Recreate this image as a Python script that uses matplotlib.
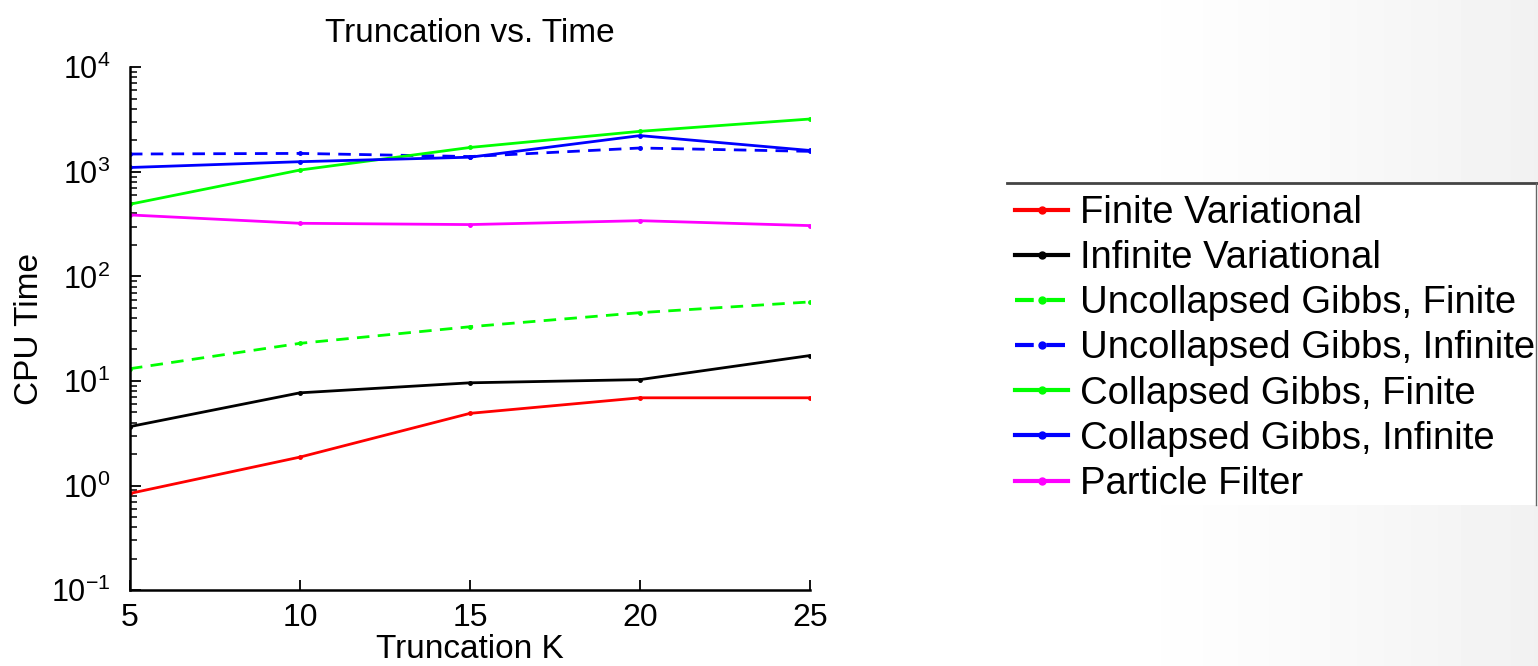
# TRUNCATION VS TIME - CPU time of each inference method

import numpy as np
import matplotlib
matplotlib.use("Agg")
import matplotlib.pyplot as plt
from matplotlib.lines import Line2D
from matplotlib.patches import Rectangle
from matplotlib.ticker import LogLocator

plt.rcParams["font.family"] = ["Liberation Sans", "DejaVu Sans"]
plt.rcParams["mathtext.fontset"] = "custom"
plt.rcParams["mathtext.rm"] = "Liberation Sans"
plt.rcParams["mathtext.it"] = "Liberation Sans"

# DATA

truncation_k = [5, 10, 15, 20, 25]

finite_variational = [0.84, 1.87, 4.9, 6.9, 6.9]
infinite_variational = [3.66, 7.7, 9.6, 10.3, 17.5]
uncollapsed_finite = [13.1, 22.9, 33, 45, 57]
uncollapsed_infinite = [1480, 1500, 1400, 1690, 1570]
collapsed_finite = [490, 1040, 1710, 2440, 3200]
collapsed_infinite = [1100, 1250, 1380, 2220, 1600]
particle_filter = [387, 322, 313, 341, 306]

series_names = [
    "Finite Variational",
    "Infinite Variational",
    "Uncollapsed Gibbs, Finite",
    "Uncollapsed Gibbs, Infinite",
    "Collapsed Gibbs, Finite",
    "Collapsed Gibbs, Infinite",
    "Particle Filter",
]

series_values = [
    finite_variational,
    infinite_variational,
    uncollapsed_finite,
    uncollapsed_infinite,
    collapsed_finite,
    collapsed_infinite,
    particle_filter,
]

series_colors = ["#ff0000", "#000000", "#00ff00", "#0000ff", "#00ff00", "#0000ff", "#ff00ff"]
series_styles = ["-", "-", "--", "--", "-", "-", "-"]

# FIGURE

fig = plt.figure(figsize=(15.38, 6.66), dpi=100)

# slide background: white fading to light gray on the right
bg = fig.add_axes([0, 0, 1, 1], zorder=-10)
cols = np.linspace(0, 1, 400)
shade = 1.0 - 0.055 * np.clip((cols - 0.72) / 0.28, 0, 1) ** 1.3
bg.imshow(np.tile(shade, (10, 1)), cmap="gray", vmin=0, vmax=1,
          aspect="auto", extent=[0, 1, 0, 1])
bg.set_axis_off()

ax = fig.add_axes([0.0845, 0.114, 0.4422, 0.785])
ax.patch.set_alpha(0)

handles = []
for name, vals, col, ls in zip(series_names, series_values, series_colors, series_styles):
    (h,) = ax.plot(
        truncation_k,
        vals,
        color=col,
        linestyle=ls,
        linewidth=2,
        marker=".",
        markersize=5,
        label=name,
    )
    if ls == "--":
        h.set_dashes((4.5, 3))
    handles.append(h)

ax.set_yscale("log")
ax.set_xlim(5, 25)
ax.set_ylim(1e-1, 1e4)
ax.set_xticks([5, 10, 15, 20, 25])
ax.yaxis.set_major_locator(LogLocator(base=10, numticks=10))
ax.yaxis.set_minor_locator(LogLocator(base=10, subs=np.arange(2, 10), numticks=20))

ax.spines["top"].set_visible(False)
ax.spines["right"].set_visible(False)
ax.spines["left"].set_linewidth(1.8)
ax.spines["bottom"].set_linewidth(1.8)

ax.tick_params(axis="x", direction="in", length=7, width=1.3, labelsize=23, pad=9)
ax.tick_params(axis="y", which="major", direction="in", length=8, width=1.3, labelsize=22, pad=14)
ax.tick_params(axis="y", which="minor", direction="in", length=5, width=1.1)

ax.set_title("Truncation vs. Time", fontsize=24, pad=18)
ax.set_xlabel("Truncation K", fontsize=24, labelpad=1)
ax.set_ylabel("CPU Time", fontsize=24, labelpad=4)

# LEGEND (cropped box on the right)

box = Rectangle((1007 / 1538, 1 - 505 / 666), (1538 - 1007) / 1538, (505 - 183) / 666,
                transform=fig.transFigure, facecolor="white", edgecolor="none", zorder=1)
fig.add_artist(box)
fig.add_artist(Line2D([1007 / 1538, 1], [1 - 183 / 666] * 2, transform=fig.transFigure,
                      color="#444444", linewidth=2, zorder=2))
fig.add_artist(Line2D([1536 / 1538] * 2, [1 - 183 / 666, 1 - 505 / 666], transform=fig.transFigure,
                      color="#666666", linewidth=1, zorder=2))

leg = fig.legend(
    handles=handles,
    labels=series_names,
    loc="upper left",
    bbox_to_anchor=(1015 / 1538, 1 - 195 / 666),
    frameon=False,
    fontsize=27.5,
    handlelength=1.4,
    handletextpad=0.3,
    labelspacing=0.24,
    borderaxespad=0,
    borderpad=0,
    markerscale=2,
)
leg.set_zorder(3)
for line in leg.get_lines():
    line.set_linewidth(3)

plt.savefig("out.png", dpi=100)
